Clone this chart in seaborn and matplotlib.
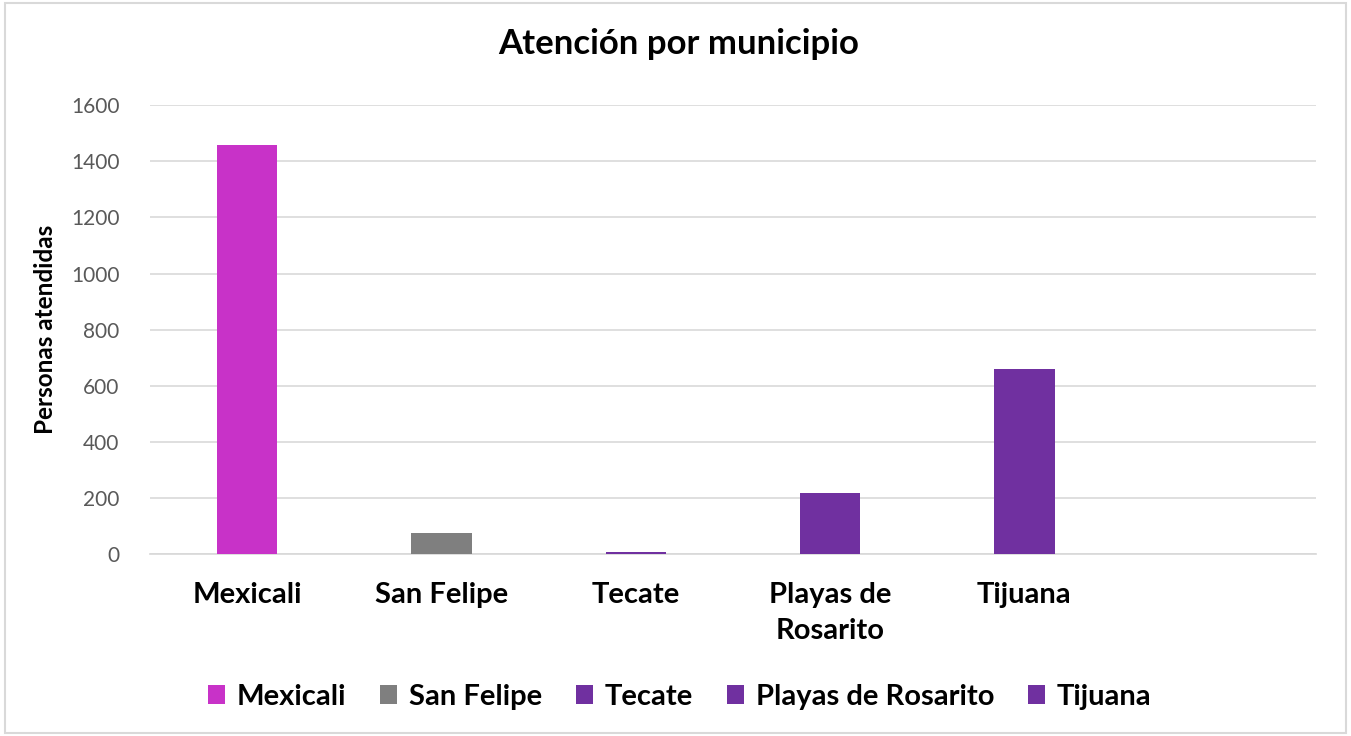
import numpy as np
import pandas as pd
import matplotlib.pyplot as plt
import seaborn as sns
from matplotlib.patches import Patch

municipios = ["Mexicali", "San Felipe", "Tecate", "Playas de Rosarito", "Tijuana"]
tick_labels = ["Mexicali", "San Felipe", "Tecate", "Playas de\nRosarito", "Tijuana", ""]
personas = [1458, 75, 7, 217, 659]
colores = ["#c832c8", "#7f7f7f", "#7030a0", "#7030a0", "#7030a0"]

df = pd.DataFrame({"municipio": municipios, "personas": personas})

sns.set_theme(style="white")
plt.rcParams["font.family"] = ["Lato", "DejaVu Sans"]
plt.rcParams["text.color"] = "black"

fig = plt.figure(figsize=(13.51, 7.36), dpi=100)
ax = fig.add_axes([0.111, 0.247, 0.863, 0.61])

orden = municipios + [" "]
sns.barplot(data=df, x="municipio", y="personas", hue="municipio", order=orden,
            hue_order=municipios, palette=colores, width=0.31, legend=False,
            saturation=1, ax=ax, zorder=3, linewidth=0, edgecolor="none")

ax.set_ylim(0, 1600)
ax.set_xlim(-0.5, 5.5)
ax.set_yticks(np.arange(0, 1601, 200))
ax.tick_params(axis="y", labelsize=15, labelcolor="#595959", length=0, pad=22)
ax.tick_params(axis="x", length=0, pad=20)
ax.set_xticks(range(6))
ax.set_xticklabels(tick_labels, fontsize=21, fontweight="bold", color="black",
                   linespacing=1.5)
ax.grid(axis="y", color="#d9d9d9", linewidth=1.2)
ax.set_axisbelow(True)
for s in ["top", "right", "left"]:
    ax.spines[s].set_visible(False)
ax.spines["bottom"].set_color("#d9d9d9")
ax.spines["bottom"].set_zorder(1)
ax.set_xlabel("")
ax.set_ylabel("Personas atendidas", fontsize=17.5, fontweight="bold", labelpad=10,
              color="black")

fig.suptitle("Atención por municipio", fontsize=25, fontweight="bold", x=0.502, y=0.962,
             color="black")

handles = [Patch(facecolor=c, edgecolor="none") for c in colores]
fig.legend(handles, municipios, loc="center", bbox_to_anchor=(0.503, 0.053), ncol=5,
           frameon=False, prop={"size": 21, "weight": "bold"}, handlelength=0.6,
           handleheight=0.6, handletextpad=0.4, columnspacing=1.15, labelcolor="black")

border = plt.Rectangle((0.004, 0.004), 0.992, 0.992, transform=fig.transFigure,
                       fill=False, edgecolor="#d9d9d9", linewidth=1.5)
fig.patches.append(border)

fig.savefig("out.png", dpi=100)
